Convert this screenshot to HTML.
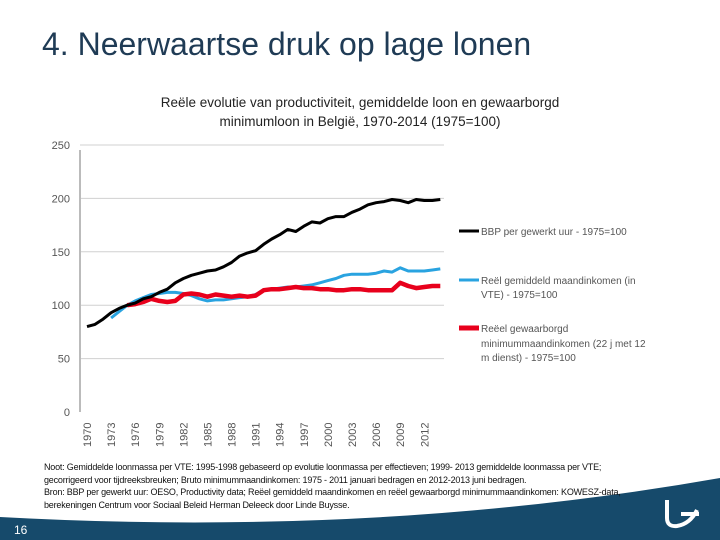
<!DOCTYPE html>
<html><head><meta charset="utf-8"><style>
body{margin:0;width:720px;height:540px;overflow:hidden;background:#fff;font-family:"Liberation Sans",sans-serif;position:relative}
.abs{position:absolute}
</style></head><body>
<div class="abs" style="left:42px;top:26px;font-size:32px;color:#1f3b55;white-space:nowrap">4. Neerwaartse druk op lage lonen</div>
<div class="abs" style="left:60px;top:93px;width:600px;text-align:center;font-size:13.5px;line-height:19px;color:#222;white-space:nowrap">Reële evolutie van productiviteit, gemiddelde loon en gewaarborgd<br>minimumloon in België, 1970-2014 (1975=100)</div>
<svg class="abs" style="left:0;top:0" width="720" height="540">
<g id="grid"></g><g id="lines"></g>
<g font-size="10" fill="#555">
<line x1="459" y1="231" x2="479" y2="231" stroke="#000" stroke-width="3"/>
<text x="481" y="235">BBP per gewerkt uur - 1975=100</text>
<line x1="459" y1="280" x2="479" y2="280" stroke="#29a3e0" stroke-width="3"/>
<text x="481" y="284">Reël gemiddeld maandinkomen (in</text>
<text x="481" y="298">VTE) - 1975=100</text>
<line x1="459" y1="328" x2="479" y2="328" stroke="#e8001c" stroke-width="5"/>
<text x="481" y="332">Reëel gewaarborgd</text>
<text x="481" y="347">minimummaandinkomen (22 j met 12</text>
<text x="481" y="361">m dienst) - 1975=100</text>
</g>
</svg>
<svg class="abs" style="left:0;top:0" width="720" height="540">
<path d="M0 517 Q380 538 720 478 L720 540 L0 540Z" fill="#164a6b"/>
<path d="M667 500 L667 518 Q667 527 677 526 Q690 524 697 510 M681 514 L699 514" stroke="#fff" stroke-width="4" fill="none"/>
<text x="14" y="534" fill="#fff" font-size="12">16</text>
</svg>
<div class="abs" style="left:44px;top:461px;font-size:9px;letter-spacing:-0.2px;line-height:12.7px;color:#111;white-space:nowrap">Noot: Gemiddelde loonmassa per VTE: 1995-1998 gebaseerd op evolutie loonmassa per effectieven; 1999- 2013 gemiddelde loonmassa per VTE;<br>gecorrigeerd voor tijdreeksbreuken; Bruto minimummaandinkomen: 1975 - 2011 januari bedragen en 2012-2013 juni bedragen.<br>Bron: BBP per gewerkt uur: OESO, Productivity data; Reëel gemiddeld maandinkomen en reëel gewaarborgd minimummaandinkomen: KOWESZ-data,<br>berekeningen Centrum voor Sociaal Beleid Herman Deleeck door Linde Buysse.</div>
<script>
const years=[];for(let y=1970;y<=2014;y++)years.push(y);
const yTicks=[0,50,100,150,200,250];
const xLabels=[1970,1973,1976,1979,1982,1985,1988,1991,1994,1997,2000,2003,2006,2009,2012];
const bbp=[80,82,87,93,97,100,102,106,108,112,115,121,125,128,130,132,133,136,140,146,149,151,157,162,166,171,169,174,178,177,181,183,183,187,190,194,196,197,199,198,196,199,198,198,199];
const gemStart=1973;
const gem=[88,94,100,104,107,110,111,112,112,111,109,106,104,105,105,106,107,108,110,114,115,116,117,117,118,119,121,123,125,128,129,129,129,130,132,131,135,132,132,132,133,134];
const minStart=1975;
const minl=[100,101,103,106,104,103,104,110,111,110,108,110,109,108,109,108,109,114,115,115,116,117,116,116,115,115,114,114,115,115,114,114,114,114,121,118,116,117,118,118];
const NS='http://www.w3.org/2000/svg';
const X=y=>87+(y-1970)*8.03, Y=v=>412-v*1.068;
const grid=document.getElementById('grid'), lines=document.getElementById('lines');
function mk(tag,at,p){const e=document.createElementNS(NS,tag);for(const k in at)e.setAttribute(k,at[k]);p.appendChild(e);return e;}
yTicks.forEach(v=>{
 if(v>0){const l=mk('line',{x1:80,x2:444,y1:Y(v),y2:Y(v),stroke:'#d0d0d0'},grid);
 
 }
 const t=mk('text',{x:70,y:Y(v)+4,'text-anchor':'end','font-size':'11',fill:'#555'},grid);t.textContent=v;
 
 
});
const ax=mk('line',{x1:80,x2:80,y1:Y(250)+5,y2:412,stroke:'#bbb','stroke-width':2},grid);


xLabels.forEach(y=>{const t=mk('text',{transform:`translate(${X(y)+4},447) rotate(-90)`,'font-size':'11',fill:'#555'},grid);t.textContent=y;
 
 });
function series(data,start,color,w,name){
 const pts=data.map((v,i)=>X(start+i).toFixed(1)+','+Y(v).toFixed(1)).join(' ');
 const p=mk('polyline',{points:pts,fill:'none',stroke:color,'stroke-width':w,'stroke-linejoin':'round'},lines);
 
 
}
series(gem,gemStart,'#29a3e0',3,'line-gemiddeld-inkomen');
series(minl,minStart,'#e8001c',4.5,'line-minimuminkomen');
series(bbp,1970,'#000',3,'line-bbp-per-uur');
</script>
</body></html>
